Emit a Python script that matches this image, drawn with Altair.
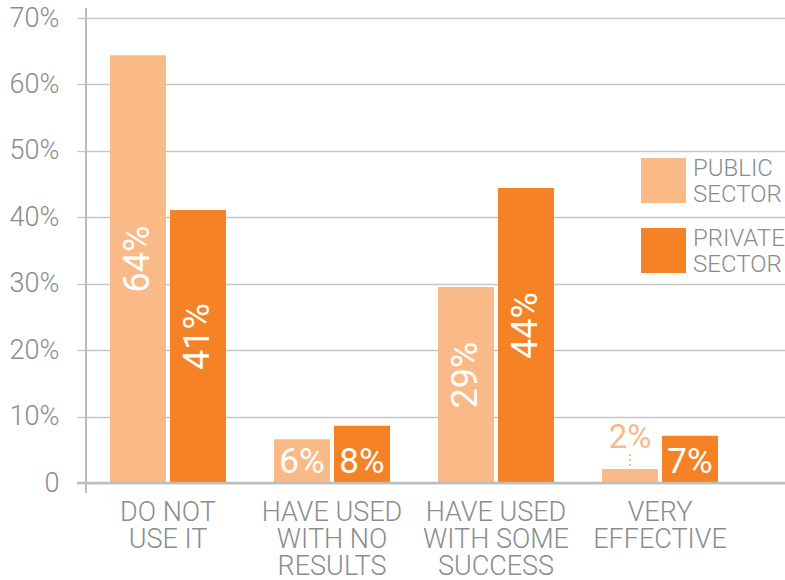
import altair as alt
import pandas as pd

CATEGORIES = ["DO NOT\nUSE IT", "HAVE USED\nWITH NO\nRESULTS", "HAVE USED\nWITH SOME\nSUCCESS", "VERY\nEFFECTIVE"]
SECTORS = ["PUBLIC SECTOR", "PRIVATE SECTOR"]
PUBLIC = [64.4, 6.6, 29.5, 2.1]
PRIVATE = [41.1, 8.6, 44.4, 7.1]
Y_TICKS = [0, 10, 20, 30, 40, 50, 60, 70]
COLORS = ["#F9BA87", "#F58225"]

rows = []
for i, c in enumerate(CATEGORIES):
    rows.append({"cat": c, "sector": SECTORS[0], "value": PUBLIC[i]})
    rows.append({"cat": c, "sector": SECTORS[1], "value": PRIVATE[i]})
df = pd.DataFrame(rows)

GREY = "#8a8c8e"
LINE = "#c6c6c6"
W, H = 699, 465

base = alt.Chart(df)

x_enc = alt.X("cat:N", sort=CATEGORIES, title=None,
              scale=alt.Scale(paddingInner=0, paddingOuter=0.131, align=0),
              axis=alt.Axis(labelExpr="split(datum.label, '\\n')", labelAngle=0,
                            labelFontSize=27, labelColor=GREY, labelFontWeight=300,
                            labelLineHeight=27, labelPadding=16, domain=False, ticks=False,
                            labelBaseline="top", grid=False))
xo_enc = alt.XOffset("sector:N", sort=SECTORS,
                     scale=alt.Scale(paddingInner=0.0667, paddingOuter=0.4))

bars = base.mark_bar().encode(
    x=x_enc,
    xOffset=xo_enc,
    y=alt.Y("value:Q", title=None,
            scale=alt.Scale(domain=[0, 70], nice=False),
            axis=alt.Axis(values=Y_TICKS,
                          labelExpr="datum.value == 0 ? '0' : datum.value + '%'",
                          labelFontSize=27, labelColor=GREY, labelFontWeight=300,
                          labelPadding=18, tickSize=9, tickColor=LINE, tickWidth=1.3,
                          grid=True, gridColor=LINE, gridWidth=1.3, domain=False)),
    color=alt.Color("sector:N", sort=SECTORS,
                    scale=alt.Scale(domain=SECTORS, range=COLORS),
                    legend=alt.Legend(title=None, orient="none", legendX=555, legendY=140,
                                      symbolType="square", symbolSize=2025,
                                      symbolStrokeWidth=0, symbolOpacity=1,
                                      labelExpr="split(datum.label, ' ')",
                                      labelFontSize=24, labelFontWeight=300,
                                      labelColor=GREY, labelBaseline="bottom",
                                      labelOffset=7, rowPadding=19, padding=0,
                                      labelLimit=300)),
)

text_common = dict(x=alt.X("cat:N", sort=CATEGORIES, title=None),
                   xOffset=alt.XOffset("sector:N", sort=SECTORS))

rotated = base.transform_filter("datum.value >= 20").transform_calculate(
    mid="datum.value / 2", lab="floor(datum.value) + '%'"
).mark_text(angle=270, fontSize=36, fontWeight=400, color="white",
            align="center", baseline="middle", dx=10).encode(
    y=alt.Y("mid:Q", title=None), text="lab:N", **text_common)

inside = base.transform_filter("datum.value >= 5 && datum.value < 20").transform_calculate(
    lab="floor(datum.value) + '%'"
).mark_text(fontSize=35, fontWeight=400, color="white", align="center",
            baseline="alphabetic", dy=-10).encode(
    y=alt.datum(0), text="lab:N", **text_common)

above = base.transform_filter("datum.value < 5").transform_calculate(
    lab="floor(datum.value) + '%'"
).mark_text(fontSize=33, fontWeight=400, color=COLORS[0], align="center",
            baseline="alphabetic", dy=-35).encode(
    y=alt.datum(0), text="lab:N", **text_common)

leader = base.transform_filter("datum.value < 5").mark_rule(
    strokeDash=[2, 3], color=COLORS[0], strokeWidth=2, yOffset=-3, y2Offset=-17
).encode(y=alt.Y("value:Q", title=None), y2="value:Q", **text_common)

one = pd.DataFrame({"a": [0]})
zero_line = alt.Chart(one).mark_rule(color="#bdbdbd", strokeWidth=2.5).encode(
    x=alt.value(-9), x2=alt.value(W), y=alt.value(H))
axis_line = alt.Chart(one).mark_rule(color="#bdbdbd", strokeWidth=2).encode(
    x=alt.value(0), y=alt.value(-10), y2=alt.value(H + 10))

chart = alt.layer(bars, zero_line, axis_line, rotated, inside, above, leader).properties(
    width=W, height=H,
    padding={"left": 86, "top": 18, "right": 0, "bottom": 97},
    autosize=alt.AutoSizeParams(type="none"),
).configure(font="Roboto").configure_view(stroke=None)

chart.save("out.html", embed_options={"renderer": "svg", "actions": False})
